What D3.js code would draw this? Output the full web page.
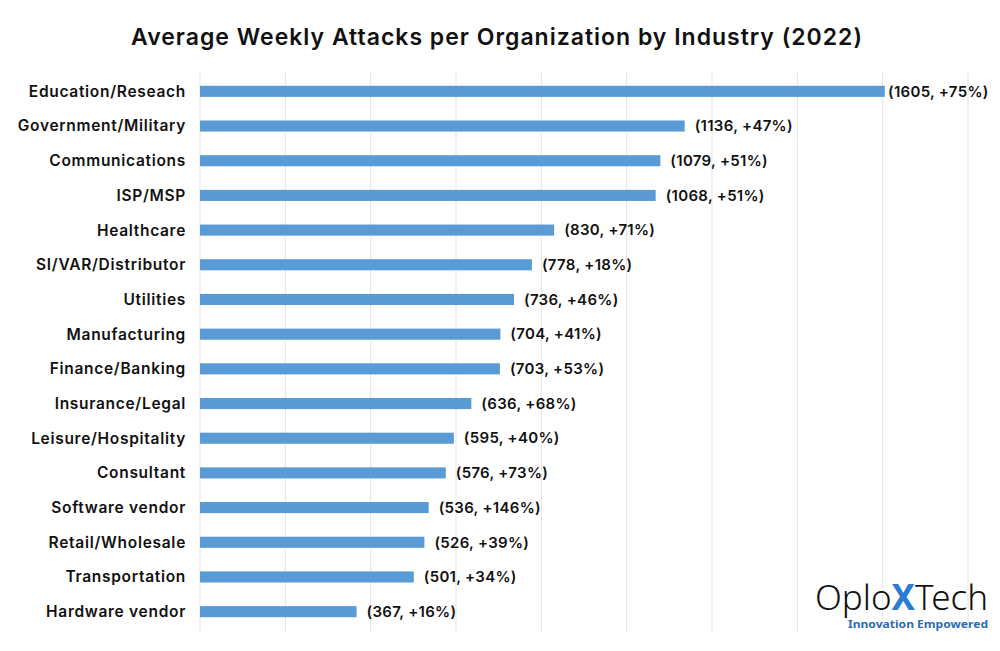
<!DOCTYPE html>
<html><head><meta charset="utf-8">
<script src="https://cdn.jsdelivr.net/npm/d3@7"></script>
<style>body{margin:0;background:#fff}svg{display:block}</style>
</head><body>
<svg id="chart" width="1000" height="651"></svg>
<script>
const categories = ["Education/Reseach","Government/Military","Communications","ISP/MSP","Healthcare","SI/VAR/Distributor","Utilities","Manufacturing","Finance/Banking","Insurance/Legal","Leisure/Hospitality","Consultant","Software vendor","Retail/Wholesale","Transportation","Hardware vendor"];
const values = [1605,1136,1079,1068,830,778,736,704,703,636,595,576,536,526,501,367];
const changes = ["+75%","+47%","+51%","+51%","+71%","+18%","+46%","+41%","+53%","+68%","+40%","+73%","+146%","+39%","+34%","+16%"];
const gridTicks = [0,200,400,600,800,1000,1200,1400,1600,1800];

const svg = d3.select("#chart");
const font = "Inter, 'Open Sans', sans-serif";
const x = d3.scaleLinear().domain([0,1800]).range([200,968]);
const y = d3.scaleBand().domain(categories).range([74,629]).paddingInner(0.68).paddingOuter(0.34);

svg.append("text").attr("x",497).attr("y",45).attr("text-anchor","middle")
  .attr("font-family",font).attr("font-weight",600).attr("font-size",23).attr("letter-spacing",1.0).attr("fill","#111")
  .text("Average Weekly Attacks per Organization by Industry (2022)");

svg.append("g").selectAll("line").data(gridTicks).join("line")
  .attr("x1",d=>x(d)).attr("x2",d=>x(d)).attr("y1",73).attr("y2",632)
  .attr("stroke","#e3e3e3").attr("stroke-width",1);

svg.append("g").selectAll("rect").data(values).join("rect")
  .attr("x",x(0)).attr("y",(d,i)=>y(categories[i]))
  .attr("width",d=>x(d)-x(0)).attr("height",y.bandwidth())
  .attr("fill","#5b9bd5");

svg.append("g").selectAll("text").data(categories).join("text")
  .attr("x",186).attr("y",d=>y(d)+y.bandwidth()/2).attr("dy","0.35em")
  .attr("text-anchor","end").attr("font-family",font).attr("font-weight",600)
  .attr("font-size",15.5).attr("letter-spacing",0.7).attr("fill","#111").text(d=>d);

svg.append("g").selectAll("text").data(values).join("text")
  .attr("x",(d,i)=>Math.min(x(d)+10, 888)).attr("y",(d,i)=>y(categories[i])+y.bandwidth()/2).attr("dy","0.35em")
  .attr("font-family",font).attr("font-weight",600).attr("letter-spacing",0.3)
  .attr("font-size",15).attr("fill","#111").text((d,i)=>`(${d}, ${changes[i]})`);

// logo
const logo = svg.append("g");
const t = logo.append("text").attr("x",815).attr("y",610).attr("font-family","'Noto Sans', sans-serif")
  .attr("font-size",35).attr("font-weight",300).attr("fill","#111")
  .attr("textLength",173).attr("lengthAdjust","spacingAndGlyphs");
t.append("tspan").text("Oplo");
t.append("tspan").attr("fill","#2b7bd1").attr("font-weight",700).text("X");
t.append("tspan").text("Tech");
logo.append("text").attr("x",988).attr("y",628).attr("text-anchor","end")
  .attr("font-family","'Noto Sans', sans-serif").attr("font-weight",700).attr("font-size",10.5)
  .attr("textLength",140).attr("lengthAdjust","spacingAndGlyphs")
  .attr("fill","#2b6cb5").text("Innovation Empowered");
</script>
</body></html>
